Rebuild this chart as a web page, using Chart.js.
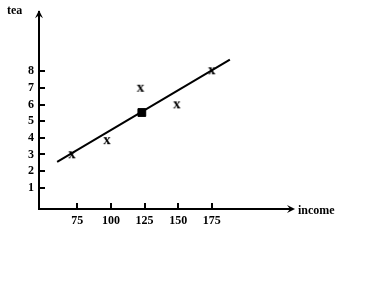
<!DOCTYPE html>
<html>
<head>
<meta charset="utf-8">
<script src="https://cdn.jsdelivr.net/npm/chart.js@4"></script>
<style>
  html, body { margin: 0; padding: 0; background: #fff; }
  #wrap { width: 384px; height: 288px; }
</style>
</head>
<body>
<div id="wrap"><canvas id="chart" width="384" height="288"></canvas></div>
<script>
// observed points (x markers)
const incomeObs = [71, 97, 122, 149, 175];
const teaObs = [2.95, 3.8, 6.95, 5.95, 8.0];
// fitted line end points
const fitIncome = [60, 188.5];
const fitTea = [2.55, 8.7];
// mean point (square)
const meanIncome = [123];
const meanTea = [5.52];
// tick labels
const xTickValues = [75, 100, 125, 150, 175];
const yTickValues = [1, 2, 3, 4, 5, 6, 7, 8];

const FONT = "'Liberation Serif', 'DejaVu Serif', serif";

// "x" glyph used as point style
const xMark = document.createElement("canvas");
xMark.width = 14;
xMark.height = 14;
(function () {
  const c = xMark.getContext("2d");
  c.fillStyle = "#000";
  c.font = "bold 15px " + FONT;
  c.textAlign = "center";
  c.textBaseline = "middle";
  c.fillText("x", 7, 6);
})();

// tick marks inside the axes, arrow heads and axis names
const axisExtras = {
  id: "axisExtras",
  afterDraw(chart) {
    const { ctx, chartArea, scales: { x, y } } = chart;
    ctx.save();
    ctx.strokeStyle = "#000";
    ctx.fillStyle = "#000";
    ctx.lineWidth = 2;
    ctx.beginPath();
    xTickValues.forEach((v) => {
      const px = Math.round(x.getPixelForValue(v));
      ctx.moveTo(px, chartArea.bottom);
      ctx.lineTo(px, chartArea.bottom - 6);
    });
    yTickValues.forEach((v) => {
      const py = Math.round(y.getPixelForValue(v));
      ctx.moveTo(chartArea.left, py);
      ctx.lineTo(chartArea.left + 6, py);
    });
    ctx.stroke();

    // arrow on y axis
    const ax = chartArea.left;
    const ay = chartArea.top - 2;
    ctx.beginPath();
    ctx.moveTo(ax, ay);
    ctx.lineTo(ax - 4, ay + 8);
    ctx.lineTo(ax, ay + 5);
    ctx.lineTo(ax + 4, ay + 8);
    ctx.closePath();
    ctx.fill();

    // arrow on x axis
    const bx = chartArea.right + 3;
    const by = chartArea.bottom;
    ctx.beginPath();
    ctx.moveTo(bx, by);
    ctx.lineTo(bx - 8, by - 4);
    ctx.lineTo(bx - 5, by);
    ctx.lineTo(bx - 8, by + 4);
    ctx.closePath();
    ctx.fill();

    ctx.font = "bold 12px " + FONT;
    ctx.textBaseline = "middle";
    ctx.textAlign = "left";
    ctx.fillText("tea", 7, 11);
    ctx.fillText("income", 298, 211);
    ctx.restore();
  },
};

const ctx = document.getElementById("chart").getContext("2d");
new Chart(ctx, {
  type: "scatter",
  data: {
    datasets: [
      {
        type: "line",
        label: "fit",
        data: fitIncome.map((v, i) => ({ x: v, y: fitTea[i] })),
        borderColor: "#000",
        borderWidth: 2,
        pointRadius: 0,
        fill: false,
        order: 3,
      },
      {
        label: "observed",
        data: incomeObs.map((v, i) => ({ x: v, y: teaObs[i] })),
        pointStyle: xMark,
        pointRadius: 7,
        order: 1,
      },
      {
        label: "mean",
        data: meanIncome.map((v, i) => ({ x: v, y: meanTea[i] })),
        pointStyle: "rect",
        pointRadius: 5.5,
        backgroundColor: "#000",
        borderColor: "#000",
        borderWidth: 1,
        order: 2,
      },
    ],
  },
  options: {
    responsive: false,
    animation: false,
    events: [],
    layout: {
      padding: { top: 9, right: 92, left: 0, bottom: 0 },
    },
    scales: {
      x: {
        type: "linear",
        min: 46.5,
        max: 234.7,
        afterFit(scale) {
          scale.height = 79;
        },
        afterBuildTicks(scale) {
          scale.ticks = xTickValues.map((v) => ({ value: v }));
        },
        grid: { display: false, drawTicks: false },
        border: { color: "#000", width: 2 },
        ticks: {
          color: "#000",
          padding: 5,
          maxRotation: 0,
          autoSkip: false,
          font: { family: FONT, size: 12, weight: "bold" },
        },
      },
      y: {
        type: "linear",
        min: -0.28,
        max: 11.55,
        afterFit(scale) {
          scale.width = 39;
        },
        afterBuildTicks(scale) {
          scale.ticks = yTickValues.map((v) => ({ value: v }));
        },
        grid: { display: false, drawTicks: false },
        border: { color: "#000", width: 2 },
        ticks: {
          color: "#000",
          padding: 5,
          autoSkip: false,
          font: { family: FONT, size: 12, weight: "bold" },
        },
      },
    },
    plugins: {
      legend: { display: false },
      tooltip: { enabled: false },
    },
  },
  plugins: [axisExtras],
});
</script>
</body>
</html>
